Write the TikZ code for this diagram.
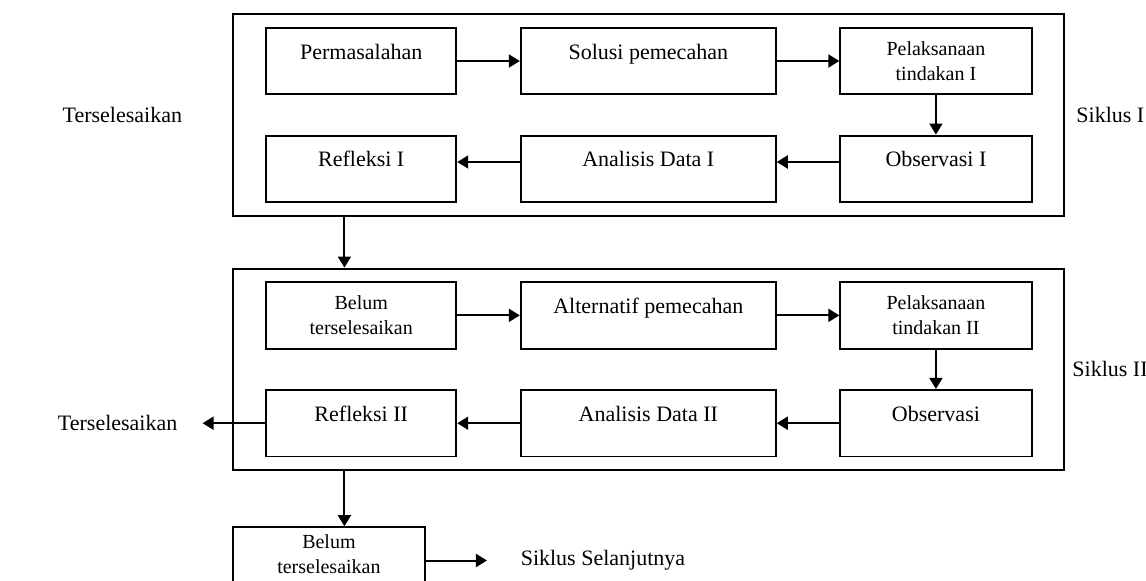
\documentclass[tikz,border=0pt]{standalone}
\usepackage{fontspec}
\setmainfont{Liberation Serif}
\usetikzlibrary{arrows.meta,positioning,fit}

\begin{document}
\begin{tikzpicture}[
    font=\fontsize{11}{12.5}\selectfont,
    block/.style={rectangle, draw, line width=1pt, align=center, minimum height=1.17cm},
    oneline/.style={text height=7.5pt, text depth=9.5pt},
    twoline/.style={font=\fontsize{10}{12.5}\selectfont},
    siklus/.style={rectangle, draw, line width=1pt, inner xsep=0.56cm, inner ysep=0.22cm},
    arrow/.style={-{Triangle[length=5.5pt, width=6.5pt]}, line width=1pt}
]
\useasboundingbox (0,0) rectangle (20.14,-10.21);

% Siklus I
\node[block, oneline, minimum width=3.34cm] (perm) at (6.348,-1.072) {Permasalahan};
\node[block, oneline, right=1.1cm of perm, minimum width=4.48cm] (sol) {Solusi pemecahan};
\node[block, twoline, right=1.1cm of sol, minimum width=3.36cm] (pel1) {Pelaksanaan\\tindakan I};
\node[block, oneline, below=0.69cm of pel1, minimum width=3.36cm] (obs1) {Observasi I};
\node[block, oneline, below=0.69cm of sol, minimum width=4.48cm] (ana1) {Analisis Data I};
\node[block, oneline, below=0.69cm of perm, minimum width=3.34cm] (refl1) {Refleksi I};
\node[siklus, fit=(perm)(pel1)(refl1)(obs1)] (cyc1) {};
\node[right=0.07cm of cyc1] (sik1) {Siklus I};
\node[left=0.76cm of cyc1] (done1) {Terselesaikan};

\draw(perm)[arrow] -- (sol);
\draw(sol)[arrow] -- (pel1);
\draw(pel1)[arrow] -- (obs1);
\draw([yshift=0.12cm]obs1.west)[arrow] -- ([yshift=0.12cm]ana1.east);
\draw([yshift=0.12cm]ana1.west)[arrow] -- ([yshift=0.12cm]refl1.east);

% Siklus II
\node[block, twoline, below=1.37cm of refl1, minimum width=3.34cm] (belum) {Belum\\terselesaikan};
\node[block, oneline, right=1.1cm of belum, minimum width=4.48cm] (alt) {Alternatif pemecahan};
\node[block, twoline, right=1.1cm of alt, minimum width=3.36cm] (pel2) {Pelaksanaan\\tindakan II};
\node[block, oneline, below=0.69cm of pel2, minimum width=3.36cm] (obs2) {Observasi};
\node[block, oneline, below=0.69cm of alt, minimum width=4.48cm] (ana2) {Analisis Data II};
\node[block, oneline, below=0.69cm of belum, minimum width=3.34cm] (refl2) {Refleksi II};
\node[siklus, fit=(belum)(pel2)(refl2)(obs2)] (cyc2) {};
\node[right=0cm of cyc2] (sik2) {Siklus II};
\node[left=1.42cm of refl2] (done2) {Terselesaikan};

\draw(belum)[arrow] -- (alt);
\draw(alt)[arrow] -- (pel2);
\draw(pel2)[arrow] -- (obs2);
\draw(obs2)[arrow] -- (ana2);
\draw(ana2)[arrow] -- (refl2);
\draw(refl2)[arrow, shorten >=0.32cm] -- (done2);

\draw[arrow] ([xshift=1.97cm]cyc1.south west) -- ([xshift=1.97cm]cyc2.north west);

% lanjut
\node[block, twoline, text depth=6pt, minimum width=3.36cm, below=0.97cm of cyc2.south west, anchor=north west] (belum3) {Belum\\terselesaikan};
\node[right=1.55cm of belum3] (next) {Siklus Selanjutnya};

\draw[arrow] ([xshift=1.97cm]cyc2.south west) -- ([xshift=1.97cm]belum3.north west);
\draw(belum3)[arrow, shorten >=0.47cm] -- (next);

\end{tikzpicture}
\end{document}
